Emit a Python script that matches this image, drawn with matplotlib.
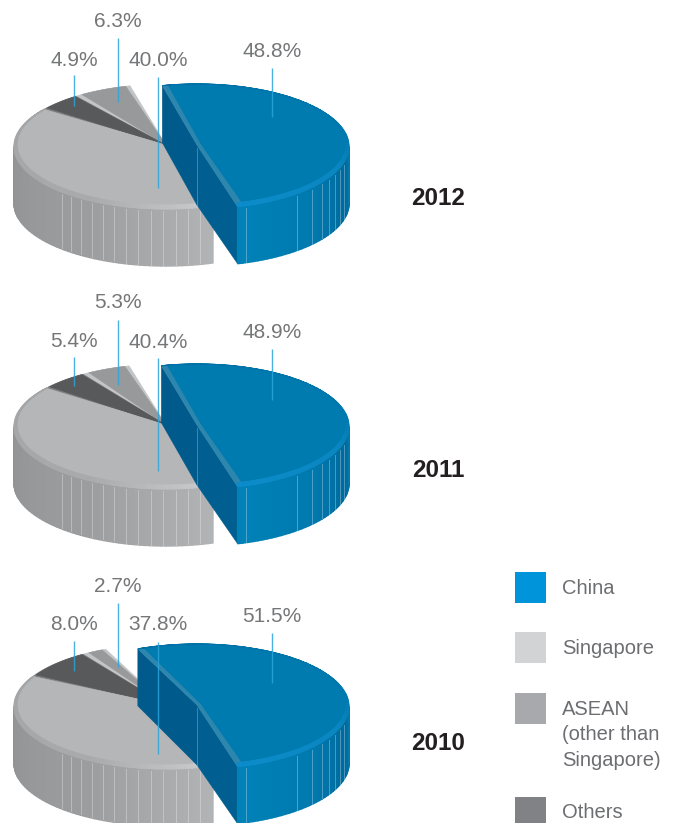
import numpy as np
import matplotlib
matplotlib.use("Agg")
import matplotlib.pyplot as plt
from matplotlib.colors import to_rgb
from matplotlib.patches import Polygon, Rectangle

plt.rcParams['font.family'] = ['Liberation Sans', 'DejaVu Sans']

years = ["2012", "2011", "2010"]
china = [48.8, 48.9, 51.5]
singapore = [40.0, 40.4, 37.8]
others = [4.9, 5.4, 8.0]
asean = [6.3, 5.3, 2.7]

legend_names = ["China", "Singapore", "ASEAN\n(other than\nSingapore)", "Others"]
legend_colors = ["#0095da", "#d1d3d4", "#a7a9ac", "#808285"]

GREY_X, CHINA_X = 166, 197
TOPS = [145, 425, 705]
RX, RY, DEPTH = 152, 61, 57
GREY_END, CHINA_END = -72, -74.5


def xy(cx, cy, t, rx=RX, ry=RY):
    t = np.radians(t)
    return np.column_stack([cx + rx * np.cos(t), cy - ry * np.sin(t)])


def outer(cx, cy, t):
    return xy(cx, cy + 1.5, t, RX, RY + 1.5)


def inner(cx, cy, t):
    return xy(cx, cy - 0.5, t, RX - 3, RY - 0.5)


def ramp(t, stops, colors):
    rgb = np.array([to_rgb(c) for c in colors])
    return [np.interp(t, stops, rgb[:, i]) for i in range(3)]


def poly(ax, pts, color, z, lw=0.4):
    ax.add_patch(Polygon(pts, closed=True, facecolor=color, edgecolor=color, lw=lw, zorder=z))


def side(ax, cx, cy, t0, t1, stops, colors, facets, z):
    # outer wall as narrow strips so the shading runs along the arc
    ts = np.append(np.arange(t0, t1, 2.0), t1)
    for a, b in zip(ts[:-1], ts[1:]):
        top = outer(cx, cy, np.array([a, b]))
        low = top[::-1] + [0, DEPTH]
        poly(ax, np.vstack([top, low]), ramp((a + b) / 2, stops, colors), z, lw=1.0)
    for f in facets:
        p = outer(cx, cy, np.array([f]))[0]
        ax.plot([p[0], p[0]], [p[1] + 2, p[1] + DEPTH - 1], color="white", alpha=0.3, lw=0.7, zorder=z + 0.1)


def rim(ax, cx, cy, t0, t1, stops, colors, z):
    ts = np.append(np.arange(t0, t1, 2.0), t1)
    for a, b in zip(ts[:-1], ts[1:]):
        o = outer(cx, cy, np.array([a, b]))
        n = inner(cx, cy, np.array([b, a]))
        poly(ax, np.vstack([o, n]), ramp((a + b) / 2, stops, colors), z, lw=0.8)


def slice_top(ax, cx, cy, t0, t1, edge, face, margin, z, apex=(0, 0)):
    # bevel colour underneath, flat face inset on top of it
    arc = outer(cx, cy, np.linspace(t0, t1, 80))
    poly(ax, np.vstack([[cx, cy], arc]), edge, z)
    arc = inner(cx, cy, np.linspace(t0 + margin, t1 - margin, 80))
    poly(ax, np.vstack([[cx + apex[0], cy + apex[1]], arc]), face, z + 0.1)


fig = plt.figure(figsize=(6.75, 8.23), dpi=100)
ax = fig.add_axes([0, 0, 1, 1])
ax.set_xlim(0, 675)
ax.set_ylim(823, 0)
ax.axis("off")

grey_facets = np.arange(-77, -136, -4.7).tolist()
blue_facets = [-71, -49, -41, -35, -30, -25, -20, -15]

for i, cy in enumerate(TOPS):
    # grey part of the pie, clockwise from the cut next to China
    t0 = GREY_END
    t1 = t0 - singapore[i] * 3.6
    t2 = t1 - others[i] * 3.6
    t3 = t2 - asean[i] * 3.6

    side(ax, GREY_X, cy, -180, t0, [-180, -120, t0], ["#929395", "#9c9d9f", "#b2b3b5"], grey_facets, 2)
    slice_top(ax, GREY_X, cy, t3, t2, "#c3c4c6", "#98999b", 2.0, 3)
    slice_top(ax, GREY_X, cy, t2, t1, "#7d7e80", "#58595b", 1.2, 3)
    slice_top(ax, GREY_X, cy, t1, t0, "#c0c1c3", "#b5b6b8", 0.6, 3)
    rim(ax, GREY_X, cy, t1, t0, [t1, -120, t0], ["#a3a4a6", "#a9aaac", "#cbccce"], 3.5)

    # China pulled out of the pie
    t_start = CHINA_END + china[i] * 3.6 + 2
    ends = outer(CHINA_X, cy, np.array([t_start, CHINA_END]))
    apex = np.array([CHINA_X, cy])
    drop = np.array([0, DEPTH])
    poly(ax, [ends[0], apex, apex + drop + [0, 3], ends[0] + drop], "#005a8b", 5)
    poly(ax, [apex, ends[1], ends[1] + drop, apex + drop + [0, 3]], "#005f90", 5)
    ax.plot([apex[0], apex[0]], [cy + 3, cy + DEPTH + 3], color="white", alpha=0.25, lw=0.7, zorder=5.1)
    side(ax, CHINA_X, cy, CHINA_END, 0, [CHINA_END, -40, -12, 0], ["#0082b8", "#0079ae", "#00699c", "#0078ab"], blue_facets, 5)
    slice_top(ax, CHINA_X, cy, CHINA_END, t_start, "#2d86ad", "#007bb0", 2.0, 6, apex=(4, -1))
    rim(ax, CHINA_X, cy, CHINA_END, t_start, [CHINA_END, -20, 10, t_start], ["#0b8ccb", "#0a86c0", "#0079af", "#006fa3"], 6.5)

# leader lines and value labels, one row per pie
label_x = [272, 118, 158, 74]
label_y = [[51, 21, 60, 60], [332, 302, 342, 341], [617, 586, 625, 624]]
line_top = [[68, 38, 77, 75], [349, 320, 358, 357], [633, 603, 642, 641]]
line_end = [[117, 102, 188, 106], [400, 385, 471, 386], [683, 667, 754, 671]]

for i in range(3):
    vals = [china[i], asean[i], singapore[i], others[i]]
    for j, v in enumerate(vals):
        ax.plot([label_x[j], label_x[j]], [line_top[i][j], line_end[i][j]],
                color="#2aa5dc", lw=1.0, alpha=0.85, zorder=8, solid_capstyle="butt")
        ax.text(label_x[j], label_y[i][j], "%.1f%%" % v, color="#757678", fontsize=15,
                ha="center", va="center", zorder=9)

year_y = [198, 470, 744]
for y, name in zip(year_y, years):
    ax.text(438, y, name, color="#231f20", fontsize=17.5, fontweight="bold", ha="center", va="center")

# legend
box_top = [572, 632, 693, 797]
text_y = [588, 649, 735, 813]
for top, ty, name, col in zip(box_top, text_y, legend_names, legend_colors):
    ax.add_patch(Rectangle((515, top), 31, 31, facecolor=col, edgecolor="none", zorder=2))
    ax.text(562, ty, name, color="#6d6e71", fontsize=14.5, ha="left", va="center", linespacing=1.42)

fig.savefig("out.png", dpi=100)
